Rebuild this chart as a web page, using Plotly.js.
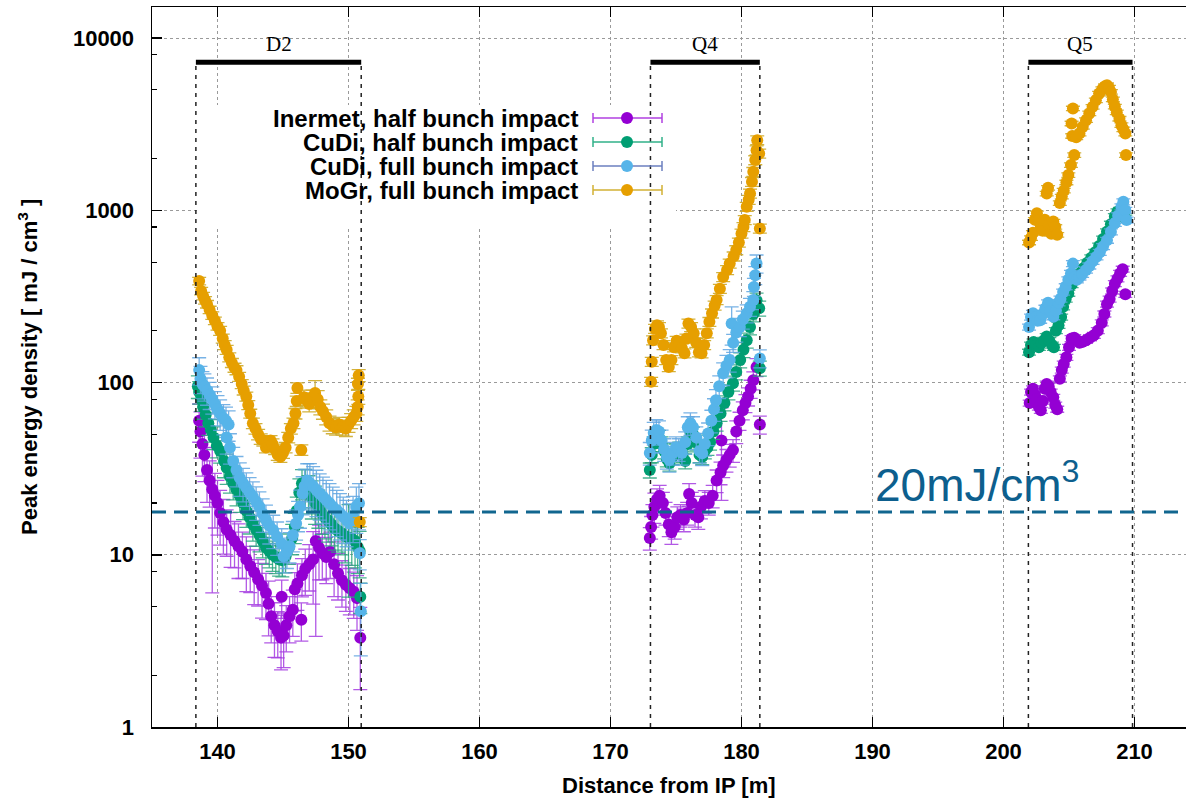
<!DOCTYPE html>
<html><head><meta charset="utf-8">
<script src="https://cdn.plot.ly/plotly-3.0.1.min.js"></script>
<style>html,body{margin:0;padding:0;background:#fff;}#chart{width:1186px;height:800px;}</style>
</head><body><div id="chart"></div>
<script>
// ---------- data ----------
const seriesNames = ['Inermet, half bunch impact','CuDi, half bunch impact','CuDi, full bunch impact','MoGr, full bunch impact'];
const magnetNames = ['D2','Q4','Q5'];
const magnetStart = [138.35, 173.05, 201.9];
const magnetEnd = [150.97, 181.4, 209.85];
const magnetBarLevel = 7230;
const thresholdLevel = 17.7;
const thresholdLabel = '20mJ/cm<sup>3</sup>';
const xTicks = [140,150,160,170,180,190,200,210];
const yTicks = [1,10,100,1000,10000];
const yTickLabels = ['1','10','100','1000','10000'];
const yMinorTicks = [2,5,8,20,50,80,200,500,800,2000,5000,8000];

// Inermet, half bunch impact
const inermetD2X = [138.6,138.7,138.85,139.0,139.2,139.4,139.6,139.8,140.0,140.2,140.45,140.7,141.0,141.3,141.6,141.9,142.2,142.5,142.8,143.1,143.4,143.7,143.9,144.1,144.35,144.6,144.85,144.9,145.05,145.25,145.5,145.75,145.9,146.1,146.4,146.45,146.7,147.0,147.3,147.5,147.75,148.0,148.3,148.6,148.9,149.2,149.5,149.8,150.1,150.4,150.65,150.9];
const inermetD2Y = [60,52,44,38,31,27,24,22,20,17.5,15.5,14,13,12,11.2,10.4,9.4,8.6,7.9,7.2,6.6,6.0,5.2,4.4,3.9,3.6,3.3,5.7,3.4,3.9,4.4,4.8,6.3,6.8,4.2,7.6,8.3,8.8,9.4,12,11,10.2,9.7,10.4,8.8,7.8,7.1,6.7,6.4,6.1,5.6,3.3];
const inermetD2Err = [25,30,35,30,35,30,75,35,35,35,35,30,35,30,35,30,35,30,35,30,35,30,35,30,35,30,35,25,35,30,30,30,25,30,25,25,30,30,45,72,35,30,30,30,35,30,30,30,30,30,35,50];
const inermetQ4X = [173.0,173.1,173.2,173.35,173.55,173.75,174.0,174.2,174.45,174.65,174.9,175.1,175.35,175.6,175.85,176.0,176.2,176.45,176.7,176.9,177.2,177.5,177.8,178.1,178.4,178.47,178.6,178.85,179.1,179.35,179.6,179.85,180.1,180.3,180.5,180.7,180.9,181.15,181.4];
const inermetQ4Y = [12.5,14.5,17,19,21,22,20,17.5,15,13.5,14.5,16.5,17,16,17.5,22.5,20,17,16.5,19,20.5,20,22,27,30,46,33,35.5,38,40.5,52,60,69,76,83,92,103,123,57];
const inermetQ4Err = [15,15,15,20,15,15,15,15,15,15,15,15,15,15,15,15,15,15,15,15,15,15,15,15,15,55,15,15,15,15,15,12,12,12,12,12,12,12,12];
const inermetQ5X = [202.0,202.1,202.25,202.4,202.55,202.7,202.85,203.0,203.15,203.3,203.45,203.6,203.8,203.95,204.1,204.3,204.45,204.6,204.8,205.0,205.2,205.4,205.6,205.8,206.0,206.3,206.6,206.9,207.2,207.5,207.7,207.9,208.1,208.3,208.5,208.7,208.9,209.1,209.3];
const inermetQ5Y = [76,88,92,85,80,72,69,78,92,98,95,88,82,74,70,105,118,128,140,160,180,182,176,170,172,176,182,188,200,222,250,285,305,340,375,400,430,455,325];
const inermetQ5ErrPct = 4;

// CuDi, half bunch impact
const cudiHalfD2X = [138.5,138.6,138.75,138.9,139.1,139.3,139.5,139.7,139.95,140.2,140.5,140.7,140.95,141.2,141.45,141.7,141.95,142.2,142.45,142.7,142.95,143.2,143.45,143.7,143.95,144.2,144.45,144.7,144.95,145.2,145.45,145.7,145.9,146.05,146.25,146.45,146.7,146.95,147.2,147.45,147.7,147.95,148.2,148.45,148.7,148.95,149.2,149.5,149.75,150.0,150.25,150.5,150.7,150.85,150.9];
const cudiHalfD2Y = [95,88,80,72,65,58,53,48,43,40,35,32,28.5,26,24,22,20,18,16.5,15,14,13,12,11,10.5,10,9.7,9.4,9.3,9.8,11,12.5,14.5,18,23,26,25,23,21.5,20,19,17.5,16.5,15.8,15,14.2,13.8,13.3,12.8,12.6,12.4,12,11.1,10.5,5.7];
const cudiHalfD2Err = [15,15,15,15,15,15,15,15,15,15,20,20,20,20,20,20,20,20,20,20,20,20,20,20,20,20,20,20,20,20,20,20,20,20,20,20,25,25,25,25,25,25,25,25,25,25,25,25,30,55,30,30,30,30,20];
const cudiHalfQ4X = [173.0,173.15,173.3,173.5,173.7,173.9,174.1,174.3,174.5,174.75,175.0,175.25,175.5,175.7,175.9,176.1,176.3,176.55,176.8,177.0,177.2,177.4,177.6,177.85,178.1,178.4,178.7,179.0,179.35,179.6,179.9,180.15,180.4,180.65,180.9,181.15,181.35,181.4];
const cudiHalfQ4Y = [31,38,44,47,48,44,40,36,34,37,40,41,38,35,44,52,50,45,38,37,40,42,45,52,58,66,76,88,99,115,135,155,176,210,250,300,270,121];
const cudiHalfQ4ErrPct = 10;
const cudiHalfQ5X = [201.95,202.1,202.3,202.5,202.7,202.9,203.1,203.3,203.5,203.7,203.85,204.0,204.2,204.4,204.55,204.75,204.95,205.2,205.5,205.8,206.1,206.4,206.7,207.0,207.3,207.6,207.9,208.2,208.5,208.7,208.9,209.1,209.3];
const cudiHalfQ5Y = [150,165,172,165,160,170,176,185,175,165,160,200,215,240,275,305,330,370,400,430,460,495,530,570,620,680,750,830,920,980,1000,960,900];
const cudiHalfQ5ErrPct = 4;

// CuDi, full bunch impact
const cudiFullD2X = [138.6,138.7,138.85,139.0,139.2,139.4,139.6,139.8,140.0,140.2,140.45,140.65,140.85,140.7,140.95,141.2,141.45,141.7,141.95,142.2,142.45,142.7,142.95,143.2,143.45,143.7,143.95,144.25,144.55,144.9,145.05,145.3,145.5,145.75,146.0,146.15,146.3,146.5,146.65,146.85,147.05,147.3,147.55,147.8,148.05,148.3,148.55,148.8,149.1,149.35,149.6,149.85,150.1,150.35,150.6,150.8,150.86,150.94];
const cudiFullD2Y = [118,105,98,95,90,85,80,75,70,66,62,60,57,48,42,35,31,28,26,24.5,23,21.7,20.3,19,17.3,15.9,14.8,13.9,12.7,11.6,9.8,10.4,11.2,13,15.2,17,19,22.7,25,27,26,25,23.8,22.7,21.7,20.8,19.9,19,18.2,17.4,16.6,15.9,15.2,16.8,19,19.9,10.2,4.7];
const cudiFullD2Err = [18,18,18,18,18,18,18,18,20,20,20,20,20,20,20,20,20,22,22,22,22,22,22,22,22,22,22,22,22,22,20,20,20,20,20,20,25,25,25,25,30,30,30,30,30,30,30,30,30,30,30,30,30,30,30,30,20,45];
const cudiFullQ4X = [173.0,173.15,173.3,173.5,173.7,173.9,174.1,174.3,174.5,174.75,175.0,175.2,175.45,175.7,175.9,176.1,176.3,176.55,176.8,177.0,177.2,177.45,177.7,177.9,178.05,178.3,178.6,178.85,179.1,179.25,179.36,179.6,179.87,180.1,180.4,180.65,180.9,180.95,181.05,181.15,181.4];
const cudiFullQ4Y = [39,46,51,53,52,46,41,37,35.5,39,42,41,39,45,55,58,55,48,40,38.8,44,50.6,60,70,79,95,113,125,135,220,170,195,210,232,252,275,301,359,420,491,138];
const cudiFullQ4Err = [15,15,15,15,15,15,15,15,15,15,15,15,15,15,15,15,15,15,15,15,15,15,15,15,15,15,15,15,15,25,12,12,12,12,12,12,12,12,12,12,12];
const cudiFullQ5X = [201.95,202.1,202.25,202.45,202.6,202.8,203.0,203.2,203.4,203.6,203.8,204.0,204.2,204.35,204.55,204.75,204.95,205.15,205.3,205.45,205.6,205.8,206.0,206.3,206.55,206.8,207.1,207.35,207.6,207.9,208.2,208.5,208.75,209.0,209.15,209.3,209.4];
const cudiFullQ5Y = [210,240,252,240,228,230,250,270,290,260,241,262,290,305,335,360,395,430,490,410,395,410,425,450,475,505,537,570,615,670,750,840,930,1047,1120,1000,877];
const cudiFullQ5ErrPct = 4;

// MoGr, full bunch impact
const mogrD2X = [138.6,138.75,138.9,139.05,139.2,139.4,139.6,139.8,140.0,140.2,140.4,140.55,140.7,140.9,141.1,141.3,141.45,141.65,141.85,142.0,142.2,142.35,142.5,142.7,142.9,143.1,143.3,143.5,143.7,143.9,144.05,144.2,144.4,144.6,144.8,145.0,145.2,145.4,145.6,145.8,145.95,146.05,146.1,146.4,146.6,146.8,147.0,147.25,147.45,147.65,147.85,148.05,148.3,148.55,148.8,149.05,149.3,149.55,149.8,150.0,150.2,150.4,150.6,150.7,150.75,150.72,150.78,150.86];
const mogrD2Y = [388,340,318,300,285,264,245,228,212,200,180,165,155,140,130,122,118,108,98,90,83,74,66,58,54,50,47,46,42,44,46,44,41,38,37,39,42,48,54,58,66,78,93,40.6,82,79,75,82,87,80,72,68,63,58,56,55,57,55,54,57,60,63,66,72,83,98,110,15.5];
const mogrD2Err = [5,5,5,5,5,5,5,5,5,6,6,6,6,6,6,6,6,6,6,6,6,6,6,7,7,7,7,7,7,7,7,7,7,7,7,7,7,7,7,7,7,7,7,7,10,10,10,10,18,12,10,10,10,10,10,10,10,10,10,10,10,10,10,10,10,8,8,6];
const mogrQ4X = [173.1,173.15,173.25,173.4,173.55,173.7,173.85,174.05,174.25,174.45,174.65,174.85,175.05,175.25,175.45,175.65,175.8,175.95,176.15,176.35,176.55,176.75,176.95,177.15,177.35,177.55,177.75,177.95,178.1,178.35,178.6,178.9,179.1,179.4,179.6,179.8,180.0,180.15,180.25,180.4,180.55,180.65,180.8,180.9,181.05,181.15,181.2,181.35,181.4];
const mogrQ4Y = [101,132,176,205,215,210,193,165,135,123,135,160,175,169,158,148,180,220,210,193,170,150,148,165,193,225,252,280,301,350,410,450,491,540,587,650,733,800,877,1047,1150,1251,1462,1671,1955,2233,2553,2136,784];
const mogrQ4ErrPct = 6;
const mogrQ5X = [201.95,202.1,202.25,202.4,202.55,202.7,202.85,203.0,203.15,203.3,203.4,203.5,203.65,203.8,203.95,204.1,204.3,204.45,204.6,204.8,204.95,205.15,205.4,205.25,205.2,205.3,205.55,205.8,206.05,206.3,206.55,206.8,207.05,207.3,207.55,207.75,207.9,208.05,208.2,208.35,208.5,208.65,208.85,209.0,209.15,209.3,209.35];
const mogrQ5Y = [650,690,740,880,960,870,800,760,880,1250,1350,820,730,860,800,720,1100,1200,1300,1450,1600,1830,2090,2700,3190,3900,2650,2790,3050,3335,3650,3983,4350,4762,5050,5250,5320,5150,4866,4400,4000,3700,3400,3119,2950,2790,2090];
const mogrQ5ErrPct = 3;

// ---------- styles ----------
const markerColors = ['#9400d3','#009e73','#56b4e9','#e69f00'];
const errColors = ['rgba(165,60,225,0.85)','rgba(40,165,125,0.85)','rgba(95,165,225,0.85)','rgba(205,170,40,0.9)'];
const legendLineColors = ['#b040e0','#30b088','#6b7fbf','#d2b033'];

function pctArr(ys, p){ return ys.map((v,i)=> v*(Array.isArray(p)?p[i]:p)/100); }
function buildSeries(clusters){
  const x=[], y=[], e=[];
  clusters.forEach(c=>{ x.push(...c[0]); y.push(...c[1]); e.push(...pctArr(c[1], c[2])); });
  return {x,y,e};
}
const seriesData = [
  buildSeries([[inermetD2X,inermetD2Y,inermetD2Err],[inermetQ4X,inermetQ4Y,inermetQ4Err],[inermetQ5X,inermetQ5Y,inermetQ5ErrPct]]),
  buildSeries([[cudiHalfD2X,cudiHalfD2Y,cudiHalfD2Err],[cudiHalfQ4X,cudiHalfQ4Y,cudiHalfQ4ErrPct],[cudiHalfQ5X,cudiHalfQ5Y,cudiHalfQ5ErrPct]]),
  buildSeries([[cudiFullD2X,cudiFullD2Y,cudiFullD2Err],[cudiFullQ4X,cudiFullQ4Y,cudiFullQ4Err],[cudiFullQ5X,cudiFullQ5Y,cudiFullQ5ErrPct]]),
  buildSeries([[mogrD2X,mogrD2Y,mogrD2Err],[mogrQ4X,mogrQ4Y,mogrQ4ErrPct],[mogrQ5X,mogrQ5Y,mogrQ5ErrPct]])
];

const traces = seriesData.map((s,i)=>({
  type:'scatter', mode:'markers', name:seriesNames[i], x:s.x, y:s.y,
  marker:{color:markerColors[i], size:12, line:{width:0}},
  error_y:{type:'data', array:s.e, visible:true, color:errColors[i], thickness:1.3, width:7},
  showlegend:false, hoverinfo:'skip'
}));

// ---------- layout helpers (pixel -> paper) ----------
const L=152, T=7, W=1034, H=720;
const px = v => (v-L)/W;
const py = v => (T+H-v)/H;

const shapes = [];
// key background box (hides grid like gnuplot key)
shapes.push({type:'rect', xref:'paper', yref:'paper', x0:px(197), x1:px(676), y0:py(226), y1:py(105), fillcolor:'white', line:{width:0}, layer:'above'});
// magnet extents
magnetNames.forEach((n,i)=>{
  [magnetStart[i], magnetEnd[i]].forEach(xv=>{
    shapes.push({type:'line', xref:'x', yref:'y', x0:xv, x1:xv, y0:1, y1:magnetBarLevel, line:{color:'#222', width:1.5, dash:'4px,5px'}, layer:'above'});
  });
  shapes.push({type:'line', xref:'x', yref:'y', x0:magnetStart[i], x1:magnetEnd[i], y0:magnetBarLevel, y1:magnetBarLevel, line:{color:'black', width:5}, layer:'above'});
});
// threshold line
shapes.push({type:'line', xref:'paper', yref:'y', x0:0, x1:1, y0:thresholdLevel, y1:thresholdLevel, line:{color:'#11668f', width:3, dash:'14px,8px'}, layer:'above'});

const annotations = [];
magnetNames.forEach((n,i)=>{
  annotations.push({text:n, xref:'x', yref:'paper', x:(magnetStart[i]+magnetEnd[i])/2, y:py(44), showarrow:false, xanchor:'center', yanchor:'middle', font:{family:'Liberation Serif, Times New Roman, serif', size:21, color:'black'}});
});
// custom key
const rowY = [118,142,166,190];
seriesNames.forEach((n,i)=>{
  annotations.push({text:'<b>'+n+'</b>', xref:'paper', yref:'paper', x:px(580), y:py(rowY[i]), xanchor:'right', yanchor:'middle', showarrow:false, font:{size:24, color:'black'}});
  const c = legendLineColors[i];
  shapes.push({type:'line', xref:'paper', yref:'paper', x0:px(593), x1:px(662), y0:py(rowY[i]), y1:py(rowY[i]), line:{color:c, width:1.5}, layer:'above'});
  [593,662].forEach(xx=> shapes.push({type:'line', xref:'paper', yref:'paper', x0:px(xx), x1:px(xx), y0:py(rowY[i]-5), y1:py(rowY[i]+5), line:{color:c, width:1.5}, layer:'above'}));
  shapes.push({type:'circle', xref:'paper', yref:'paper', x0:px(621), x1:px(633), y0:py(rowY[i]+6), y1:py(rowY[i]-6), fillcolor:markerColors[i], line:{width:0}, layer:'above'});
});
// threshold label
annotations.push({text:thresholdLabel, xref:'paper', yref:'paper', x:px(873), y:py(482), xanchor:'left', yanchor:'middle', showarrow:false, font:{size:46, color:'#0d5f8e'}});
// axis titles
annotations.push({text:'<b>Distance from IP [m]</b>', xref:'paper', yref:'paper', x:0.5, y:py(785), xanchor:'center', yanchor:'middle', showarrow:false, font:{size:22, color:'black'}});
annotations.push({text:'<b>Peak energy density [ mJ / cm<sup>3</sup> ]</b>', xref:'paper', yref:'paper', x:px(28), y:0.5, xanchor:'center', yanchor:'middle', textangle:-90, showarrow:false, font:{size:22, color:'black'}});

const layout = {
  width:1186, height:800,
  margin:{l:L, r:0, t:T, b:800-T-H, pad:0},
  paper_bgcolor:'white', plot_bgcolor:'white', showlegend:false,
  font:{family:'Liberation Sans, Arial, sans-serif', color:'black'},
  xaxis:{range:[135, 135+W/13.1], tickmode:'array', tickvals:xTicks, ticktext:xTicks.map(String),
    ticks:'inside', ticklen:10, tickwidth:1.5, tickcolor:'black', showline:true, linecolor:'black', linewidth:1.5,
    mirror:'ticks', showgrid:true, gridcolor:'#9a9a9a', griddash:'dot', gridwidth:1, zeroline:false,
    tickfont:{size:22, weight:'bold'}, ticklabelstandoff:4, automargin:false},
  yaxis:{type:'log', range:[0,4.18], tickmode:'array', tickvals:yTicks, ticktext:yTickLabels,
    ticks:'inside', ticklen:10, tickwidth:1.5, tickcolor:'black', showline:true, linecolor:'black', linewidth:1.5,
    mirror:false, showgrid:true, gridcolor:'#9a9a9a', griddash:'dot', gridwidth:1, zeroline:false,
    minor:{tickmode:'array', tickvals:yMinorTicks, ticks:'inside', ticklen:5, tickwidth:1.2, tickcolor:'black', showgrid:false},
    tickfont:{size:22, weight:'bold'}, ticklabelstandoff:12, automargin:false},
  shapes, annotations
};
Plotly.newPlot('chart', traces, layout, {displayModeBar:false, staticPlot:true});
</script></body></html>
